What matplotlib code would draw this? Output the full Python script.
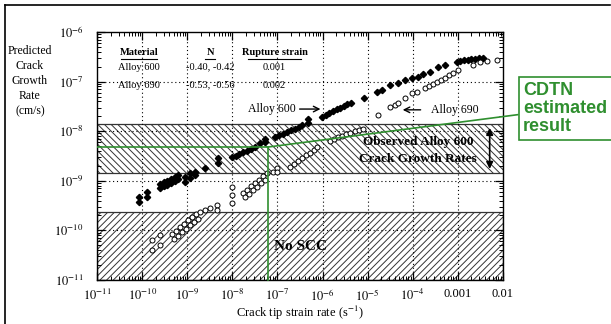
import numpy as np
import matplotlib
matplotlib.use("Agg")
import matplotlib.pyplot as plt
from matplotlib.ticker import LogLocator, FixedLocator, NullFormatter
from matplotlib.lines import Line2D

plt.rcParams['font.family'] = ['Liberation Serif', 'DejaVu Serif']
plt.rcParams['mathtext.fontset'] = 'stix'
plt.rcParams['hatch.linewidth'] = 0.7

# --- data (log10 of strain rate, log10 of crack growth rate) ---
a600_log_strain = [-10.07, -10.07, -9.89, -9.89,
                   -9.60, -9.52, -9.44, -9.36, -9.28, -9.20,
                   -9.60, -9.52, -9.44, -9.36, -9.28, -9.20,
                   -9.05, -9.05, -8.94, -8.94, -8.83, -8.83,
                   -8.61, -8.32, -8.32,
                   -8.01, -7.93, -7.85, -7.77, -7.68, -7.59, -7.50,
                   -7.39, -7.27, -7.27,
                   -7.05, -6.96, -6.87, -6.78, -6.70, -6.62, -6.53, -6.45,
                   -6.32, -6.32,
                   -6.01, -5.93, -5.85, -5.77, -5.69, -5.61, -5.53, -5.45, -5.37,
                   -5.08, -4.79, -4.68, -4.50, -4.33, -4.17, -4.02, -3.88, -3.77,
                   -3.62, -3.44, -3.28,
                   -3.02, -2.94, -2.86, -2.78, -2.70, -2.62, -2.53, -2.44]
a600_log_rate = [-9.33, -9.43, -9.23, -9.33,
                 -9.07, -9.03, -9.00, -8.96, -8.92, -8.88,
                 -9.15, -9.11, -9.08, -9.04, -9.00, -8.96,
                 -8.92, -9.02, -8.84, -8.94, -8.82, -8.88,
                 -8.74, -8.64, -8.54,
                 -8.52, -8.49, -8.46, -8.42, -8.39, -8.35, -8.32,
                 -8.24, -8.22, -8.15,
                 -8.12, -8.08, -8.05, -8.01, -7.98, -7.95, -7.91, -7.88,
                 -7.83, -7.75,
                 -7.71, -7.67, -7.63, -7.60, -7.56, -7.53, -7.49, -7.46, -7.43,
                 -7.33, -7.21, -7.17, -7.07, -7.03, -6.97, -6.93, -6.91, -6.85,
                 -6.81, -6.71, -6.67,
                 -6.60, -6.58, -6.57, -6.56, -6.55, -6.54, -6.53, -6.52]

a690_log_strain = [-9.78, -9.78, -9.60, -9.60,
                   -9.34, -9.25, -9.16, -9.07, -8.98, -8.89, -8.80, -8.72,
                   -9.30, -9.21, -9.12, -9.03, -8.94, -8.85, -8.76,
                   -8.61, -8.49, -8.34, -8.34, -8.01,
                   -8.01, -8.01,
                   -7.76, -7.67, -7.58, -7.49, -7.40, -7.32, -7.23,
                   -7.72, -7.63, -7.54, -7.45, -7.36, -7.27,
                   -7.10, -7.01, -7.01,
                   -6.72, -6.63, -6.54, -6.45, -6.36, -6.28, -6.20, -6.12,
                   -5.83, -5.74, -5.65, -5.56, -5.47, -5.38, -5.29, -5.20, -5.10,
                   -4.77, -4.50, -4.39, -4.33, -4.17, -4.02, -3.90,
                   -3.73, -3.64, -3.55, -3.46, -3.37, -3.28, -3.19, -3.11,
                   -3.00, -2.66, -2.51, -2.35, -2.13]
a690_log_rate = [-10.40, -10.19, -10.29, -10.09,
                 -10.08, -10.01, -9.94, -9.87, -9.80, -9.73, -9.67, -9.62,
                 -10.18, -10.11, -10.04, -9.97, -9.90, -9.83, -9.77,
                 -9.59, -9.55, -9.49, -9.59, -9.45,
                 -9.13, -9.29,
                 -9.25, -9.18, -9.11, -9.04, -8.98, -8.91, -8.85,
                 -9.33, -9.26, -9.19, -9.12, -9.05, -8.98,
                 -8.82, -8.74, -8.82,
                 -8.72, -8.66, -8.60, -8.54, -8.48, -8.43, -8.37, -8.32,
                 -8.20, -8.16, -8.12, -8.09, -8.06, -8.03, -8.00, -7.97, -7.95,
                 -7.67, -7.51, -7.47, -7.43, -7.33, -7.23, -7.21,
                 -7.13, -7.09, -7.05, -7.00, -6.96, -6.92, -6.87, -6.83,
                 -6.77, -6.67, -6.60, -6.58, -6.56]

observed_band = [1.45e-9, 1.4e-8]
no_scc_band = [1e-11, 2.3e-10]
cdtn_point = [6.2e-8, 4.8e-9]

x_ticks = [1e-11, 1e-10, 1e-9, 1e-8, 1e-7, 1e-6, 1e-5, 1e-4, 1e-3, 1e-2]
x_ticklabels = [r'$10^{-11}$', r'$10^{-10}$', r'$10^{-9}$', r'$10^{-8}$', r'$10^{-7}$',
                r'$10^{-6}$', r'$10^{-5}$', r'$10^{-4}$', '0.001', '0.01']
y_ticks = [1e-11, 1e-10, 1e-9, 1e-8, 1e-7, 1e-6]
y_ticklabels = [r'$10^{-11}$', r'$10^{-10}$', r'$10^{-9}$', r'$10^{-8}$', r'$10^{-7}$', r'$10^{-6}$']

table_header = ['Material', 'N', 'Rupture strain']
table_rows = [['Alloy 600', '-0.40, -0.42', '0.001'],
              ['Alloy 690', '-0.53, -0.56', '0.002']]

green = '#2f8f2f'

fig = plt.figure(figsize=(6.11, 3.24), dpi=100)
ax = fig.add_axes([0.159, 0.136, 0.664, 0.765])
ax.set_xscale('log')
ax.set_yscale('log')
ax.set_xlim(1e-11, 1e-2)
ax.set_ylim(1e-11, 1e-6)

# hatched bands
ax.axhspan(observed_band[0], observed_band[1], facecolor='white', edgecolor='#333333',
           hatch='\\\\\\\\\\', lw=0.9, zorder=1)
ax.axhspan(no_scc_band[0], no_scc_band[1], facecolor='white', edgecolor='#333333',
           hatch='/////', lw=0.9, zorder=1)

# dotted grid
for xv in x_ticks[1:-1]:
    ax.axvline(xv, color='black', ls=(0, (1, 2.5)), lw=0.8, zorder=2)
for yv in y_ticks[1:-1]:
    ax.axhline(yv, color='black', ls=(0, (1, 2.5)), lw=0.8, zorder=2)

# data
ax.plot(10.0 ** np.array(a600_log_strain), 10.0 ** np.array(a600_log_rate), 'D',
        color='black', ms=3.2, zorder=4)
ax.plot(10.0 ** np.array(a690_log_strain), 10.0 ** np.array(a690_log_rate), 'o',
        mfc='white', mec='black', ms=3.6, mew=0.7, zorder=4)

# ticks
ax.xaxis.set_major_locator(FixedLocator(x_ticks))
ax.set_xticklabels(x_ticklabels)
ax.yaxis.set_major_locator(FixedLocator(y_ticks))
ax.set_yticklabels(y_ticklabels)
ax.xaxis.set_minor_locator(LogLocator(base=10, subs=np.arange(2, 10), numticks=20))
ax.yaxis.set_minor_locator(LogLocator(base=10, subs=np.arange(2, 10), numticks=20))
ax.xaxis.set_minor_formatter(NullFormatter())
ax.yaxis.set_minor_formatter(NullFormatter())
ax.tick_params(which='both', direction='in', top=True, right=True, labelsize=9)
ax.tick_params(which='major', length=6, width=0.9)
ax.tick_params(which='minor', length=3, width=0.7)
ax.tick_params(axis='y', pad=10)
ax.tick_params(axis='x', pad=6)
for s in ax.spines.values():
    s.set_linewidth(1.0)

ax.set_xlabel(r'Crack tip strain rate (s$^{-1}$)', fontsize=9, labelpad=0)
fig.text(0.049, 0.75, 'Predicted\nCrack\nGrowth\nRate\n(cm/s)', ha='center', va='center',
         fontsize=8.5, linespacing=1.35)

# table in the upper left
col_x = [0.103, 0.279, 0.437]
for j, head in enumerate(table_header):
    ax.text(col_x[j], 0.918, head, transform=ax.transAxes, ha='center', va='center',
            fontsize=7.5, fontweight='bold')
for x0, x1 in [(0.058, 0.148), (0.267, 0.291), (0.372, 0.502)]:
    ax.plot([x0, x1], [0.892, 0.892], transform=ax.transAxes, color='black', lw=0.8)
for i, row in enumerate(table_rows):
    for j, cell in enumerate(row):
        ax.text(col_x[j], 0.858 - 0.072 * i, cell, transform=ax.transAxes, ha='center',
                va='center', fontsize=7.5)

# series labels with their arrows
ax.text(2.6e-7, 2.8e-8, 'Alloy 600', fontsize=8.5, ha='right', va='center')
ax.annotate('', xy=(9.0e-7, 2.8e-8), xytext=(3.1e-7, 2.8e-8),
            arrowprops=dict(arrowstyle='->', color='black', lw=1.0, shrinkA=0, shrinkB=0))
ax.text(2.5e-4, 2.7e-8, 'Alloy 690', fontsize=8.5, ha='left', va='center')
ax.annotate('', xy=(6.0e-5, 2.7e-8), xytext=(1.5e-4, 2.7e-8),
            arrowprops=dict(arrowstyle='->', color='black', lw=1.0, shrinkA=0, shrinkB=0))

ax.text(1.3e-4, 6.0e-9, 'Observed Alloy 600', fontsize=9.5, fontweight='bold',
        ha='center', va='center', zorder=5)
ax.text(1.3e-4, 2.75e-9, 'Crack Growth Rates', fontsize=9.5, fontweight='bold',
        ha='center', va='center', zorder=5)
ax.annotate('', xy=(5.1e-3, observed_band[1] * 0.95), xytext=(5.1e-3, observed_band[0] * 1.05),
            arrowprops=dict(arrowstyle='<|-|>', color='black', lw=1.2, mutation_scale=10))
ax.text(3.2e-7, 4.7e-11, 'No SCC', fontsize=11, fontweight='bold', ha='center', va='center',
        zorder=5)

# CDTN estimate
ax.plot([1e-11, cdtn_point[0]], [cdtn_point[1], cdtn_point[1]], color=green, lw=1.2, zorder=6)
ax.plot([cdtn_point[0], cdtn_point[0]], [1e-11, cdtn_point[1]], color=green, lw=1.2, zorder=6,
        clip_on=False)
ax.annotate('CDTN\nestimated\nresult', xy=cdtn_point, xycoords='data',
            xytext=(0.856, 0.665), textcoords='figure fraction',
            fontsize=13, color=green, fontweight='bold', family=['Liberation Sans'],
            ha='left', va='center', linespacing=1.1, annotation_clip=False,
            bbox=dict(boxstyle='square,pad=0.25', fc='white', ec=green, lw=1.2),
            arrowprops=dict(arrowstyle='-', color=green, lw=1.2, shrinkA=0, shrinkB=0),
            zorder=6)

# outer frame lines
fig.add_artist(Line2D([0.008, 0.998], [0.985, 0.985], color='black', lw=1.2))
fig.add_artist(Line2D([0.008, 0.008], [0.0, 0.985], color='black', lw=1.2))

fig.savefig('out.png', dpi=100)
